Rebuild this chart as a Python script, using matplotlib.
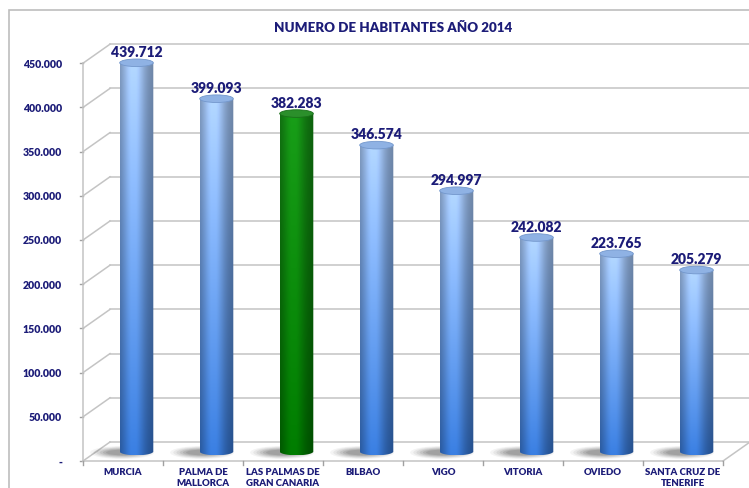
import numpy as np
import matplotlib
matplotlib.use("Agg")
import matplotlib.pyplot as plt
from matplotlib.patches import Ellipse, Polygon, Rectangle
from matplotlib.colors import to_rgb

# ── DATA ──────────────────────────────────────────────────────────────────────
CITIES = ["MURCIA", "PALMA DE\nMALLORCA", "LAS PALMAS DE\nGRAN CANARIA", "BILBAO",
          "VIGO", "VITORIA", "OVIEDO", "SANTA CRUZ DE\nTENERIFE"]
HABITANTES = [439712, 399093, 382283, 346574, 294997, 242082, 223765, 205279]
HIGHLIGHT = "LAS PALMAS DE\nGRAN CANARIA"
Y_TICKS = [0, 50000, 100000, 150000, 200000, 250000, 300000, 350000, 400000, 450000]
TITLE = "NUMERO DE HABITANTES AÑO 2014"

# ── STYLE ─────────────────────────────────────────────────────────────────────
NAVY = "#1c1c78"
GRID = "#c4c4c4"
FONT = ["Lato", "DejaVu Sans"]
plt.rcParams["font.family"] = FONT

W, H, DPI = 749, 489, 100
PX_X = 80.0                 # pixels per category
PX_Y = 44.2 / 50000         # pixels per habitant
DX = 27 / PX_X              # depth offset (data units)
DY = 19 / PX_Y
HW = 0.21                   # cylinder half width
RY = 3.8 / PX_Y             # cap ellipse half height

fig = plt.figure(figsize=(W / DPI, H / DPI), dpi=DPI)
fig.patch.set_facecolor("white")
left_px, right_px, bot_px, top_px = 83, 750, 462, 40
ax = fig.add_axes([left_px / W, (H - bot_px) / H, (right_px - left_px) / W, (bot_px - top_px) / H])
ax.set_axis_off()
xmin = -0.5
xmax = xmin + (right_px - left_px) / PX_X
ymax = (bot_px - top_px) / PX_Y

# chart border
fig.patches.append(Rectangle((9 / W, -0.05), 1.0, 1.05 - 11 / H, transform=fig.transFigure,
                             fill=False, edgecolor="#bdbdbd", lw=1.2))

fig.text(393 / W, 1 - 28 / H, TITLE, ha="center", va="center", fontsize=9.6,
         fontweight="heavy", color=NAVY)

# ── WALLS / GRID ──────────────────────────────────────────────────────────────
n = len(CITIES)
for v in Y_TICKS:
    ax.plot([xmin + DX, xmax], [v + DY, v + DY], color=GRID, lw=1.1, clip_on=False)
    ax.plot([xmin, xmin + DX], [v, v + DY], color=GRID, lw=1.1, clip_on=False)
    ax.plot([xmin - 3 / PX_X, xmin], [v, v], color="#a0a0a0", lw=1, clip_on=False)
    lab = "-" if v == 0 else f"{v:,}".replace(",", ".")
    ax.text(xmin - 21 / PX_X, v, lab, ha="right", va="center", fontsize=7.6,
            fontweight="heavy", color=NAVY)
ax.plot([xmin, xmin], [0, Y_TICKS[-1]], color=GRID, lw=1.1, clip_on=False)
ax.plot([xmin, n - 0.5], [0, 0], color=GRID, lw=1.1, clip_on=False)
ax.plot([n - 0.5, n - 0.5 + DX], [0, DY], color=GRID, lw=1.1, clip_on=False)
for b in range(n + 1):
    ax.plot([b - 0.5, b - 0.5], [0, -4 / PX_Y], color="#a0a0a0", lw=1, clip_on=False)

# ── CYLINDERS ─────────────────────────────────────────────────────────────────
def shade_img(top_c, bot_c):
    u = np.linspace(0, 1, 60)
    t = np.linspace(0, 1, 120)[:, None]
    shade = 0.66 + 0.44 * np.exp(-((u - 0.4) / 0.34) ** 2)
    shade = np.minimum(shade, 1.08)
    top_c, bot_c = np.array(to_rgb(top_c)), np.array(to_rgb(bot_c))
    col = top_c * (1 - t[..., None]) + bot_c * t[..., None]
    img = col * shade[None, :, None]
    return np.clip(img, 0, 1)

blue_img = shade_img("#a6c8f8", "#3676d2")
green_img = shade_img("#169216", "#007400")

base = DY / 2
for i, (city, val) in enumerate(zip(CITIES, HABITANTES)):
    cx = i + DX / 2
    top = val + DY / 2
    green = city == HIGHLIGHT

    # soft shadow on the floor
    for k, a in zip(range(6), [0.06, 0.08, 0.10, 0.12, 0.14, 0.16]):
        w = 0.80 - 0.08 * k
        h = (13 - 1.5 * k) / PX_Y
        ax.add_patch(Ellipse((cx - 0.18, base - 1 / PX_Y), w, h, facecolor="#4a4a4a",
                             edgecolor="none", alpha=a, zorder=2))

    ang = np.linspace(np.pi, 2 * np.pi, 40)
    pts = [(cx - HW, top)] + [(cx + HW * np.cos(a), base + RY * np.sin(a)) for a in ang] + [(cx + HW, top)]
    clip = Polygon(pts, closed=True, transform=ax.transData, facecolor="none", edgecolor="none")
    ax.add_patch(clip)
    im = ax.imshow(green_img if green else blue_img, extent=(cx - HW, cx + HW, base - RY, top),
                   aspect="auto", origin="upper", interpolation="bilinear", zorder=3)
    im.set_clip_path(clip)
    ax.add_patch(Ellipse((cx, top), 2 * HW, 2 * RY,
                         facecolor="#2b8f2b" if green else "#8fb2e4",
                         edgecolor="#1a6e1a" if green else "#7397cc", lw=0.6, zorder=4))
    ax.text(cx, top + RY + 1 / PX_Y, f"{val:,}".replace(",", "."), ha="center", va="bottom",
            fontsize=10, fontweight="heavy", color=NAVY, zorder=5)
    ax.text(i, -6 / PX_Y, city, ha="center", va="top", fontsize=6.9, fontweight="heavy",
            color=NAVY, linespacing=1.3)

ax.set_xlim(xmin, xmax)
ax.set_ylim(0, ymax)

fig.savefig("out.png", dpi=DPI)
